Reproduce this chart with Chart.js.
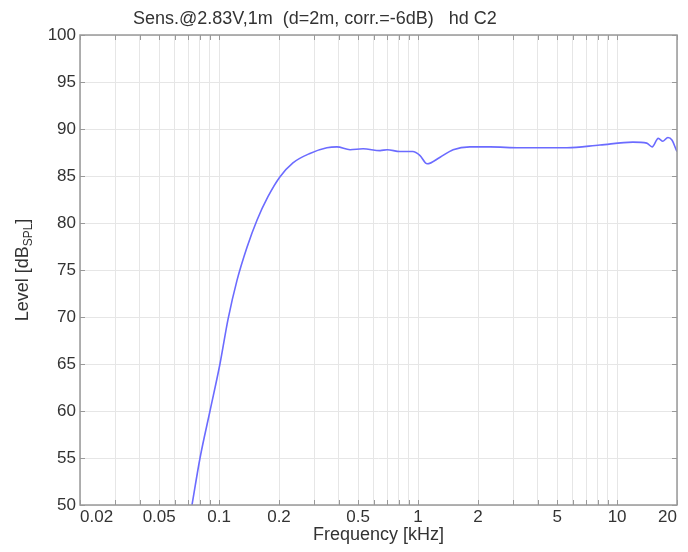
<!DOCTYPE html>
<html>
<head>
<meta charset="utf-8">
<script src="https://cdn.jsdelivr.net/npm/chart.js@4.4.0/dist/chart.umd.min.js"></script>
<style>
  html, body { margin: 0; padding: 0; background: #fff; }
</style>
</head>
<body>
<canvas id="spl" width="688" height="552"></canvas>
<script>
// frequency response (kHz / dB SPL)
const freqKHz = [0.0731, 0.0802, 0.090, 0.101, 0.111, 0.123, 0.138, 0.155, 0.176, 0.202,
    0.235, 0.286, 0.348, 0.391, 0.455, 0.529, 0.644, 0.70, 0.81, 0.94,
    1.02, 1.11, 1.29, 1.50, 1.82, 2.30, 3.25, 5.6, 8.2, 12.0,
    14.1, 15.0, 16.1, 17.0, 18.0, 18.9, 19.8, 20.0];
const levelDb = [50, 55, 60, 65, 69.8, 73.9, 77.4, 80.3, 82.8, 84.9,
    86.4, 87.4, 88.0, 88.1, 87.8, 87.9, 87.7, 87.8, 87.6, 87.6,
    87.2, 86.3, 87.0, 87.8, 88.1, 88.1, 88.0, 88.0, 88.3, 88.6,
    88.5, 88.1, 89.0, 88.7, 89.1, 88.8, 87.8, 87.6];

// grid lines (every 1..9 of each decade) and the labelled ones
const gridFreqs = [0.02, 0.03, 0.04, 0.05, 0.06, 0.07, 0.08, 0.09,
    0.1, 0.2, 0.3, 0.4, 0.5, 0.6, 0.7, 0.8, 0.9,
    1, 2, 3, 4, 5, 6, 7, 8, 9, 10, 20];
const freqLabels = [0.02, 0.05, 0.1, 0.2, 0.5, 1, 2, 5, 10, 20];
const levelTicks = [50, 55, 60, 65, 70, 75, 80, 85, 90, 95, 100];

const titleText = 'Sens.@2.83V,1m  (d=2m, corr.=-6dB)   hd C2';

const FONT = '"Liberation Sans", Arial, Helvetica, sans-serif';
const TEXT_COLOR = '#333';
const FRAME_COLOR = '#999';

Chart.defaults.font.family = FONT;
Chart.defaults.color = TEXT_COLOR;

// box, inward tick marks, title and y label with subscript
const framePlugin = {
    id: 'frame',
    afterDraw(chart) {
        const { ctx, chartArea: a, scales: { x, y } } = chart;
        ctx.save();

        ctx.strokeStyle = FRAME_COLOR;
        ctx.lineWidth = 1;
        ctx.beginPath();
        gridFreqs.forEach(f => {
            const px = Math.round(x.getPixelForValue(f)) + 0.5;
            ctx.moveTo(px, a.bottom); ctx.lineTo(px, a.bottom - 5);
            ctx.moveTo(px, a.top); ctx.lineTo(px, a.top + 5);
        });
        levelTicks.forEach(v => {
            const py = Math.round(y.getPixelForValue(v)) + 0.5;
            ctx.moveTo(a.left, py); ctx.lineTo(a.left + 5, py);
            ctx.moveTo(a.right, py); ctx.lineTo(a.right - 5, py);
        });
        ctx.stroke();

        ctx.lineWidth = 1.5;
        ctx.strokeRect(a.left, a.top, a.right - a.left, a.bottom - a.top);

        // title
        ctx.fillStyle = TEXT_COLOR;
        ctx.font = '18px ' + FONT;
        ctx.textAlign = 'left';
        ctx.textBaseline = 'alphabetic';
        ctx.fillText(titleText, 133, 24);

        // y axis label: Level [dB_SPL]
        const main = 'Level [dB', sub = 'SPL', end = ']';
        ctx.font = '18px ' + FONT;
        const wMain = ctx.measureText(main).width;
        const wEnd = ctx.measureText(end).width;
        ctx.font = '12px ' + FONT;
        const wSub = ctx.measureText(sub).width;
        const total = wMain + wSub + wEnd;
        ctx.translate(28, (a.top + a.bottom) / 2);
        ctx.rotate(-Math.PI / 2);
        let cx = -total / 2;
        ctx.font = '18px ' + FONT;
        ctx.fillText(main, cx, 0);
        cx += wMain;
        ctx.font = '12px ' + FONT;
        ctx.fillText(sub, cx, 4);
        cx += wSub;
        ctx.font = '18px ' + FONT;
        ctx.fillText(end, cx, 0);

        ctx.restore();
    }
};

const points = freqKHz.map((f, i) => ({ x: f, y: levelDb[i] }));

new Chart(document.getElementById('spl'), {
    type: 'line',
    data: {
        datasets: [{
            data: points,
            borderColor: '#6b6bff',
            borderWidth: 1.6,
            pointRadius: 0,
            fill: false,
            cubicInterpolationMode: 'monotone'
        }]
    },
    options: {
        responsive: false,
        animation: false,
        layout: { padding: { top: 35, right: 11, left: 0, bottom: 0 } },
        plugins: {
            legend: { display: false },
            tooltip: { enabled: false }
        },
        scales: {
            x: {
                type: 'logarithmic',
                min: 0.02,
                max: 20,
                afterBuildTicks: scale => {
                    scale.ticks = gridFreqs.map(v => ({ value: v }));
                },
                afterFit: scale => { scale.height = 47; },
                grid: { color: '#e6e6e6', lineWidth: 1, drawTicks: false },
                border: { display: false },
                ticks: {
                    autoSkip: false,
                    maxRotation: 0,
                    align: 'inner',
                    padding: 2,
                    font: { size: 17 },
                    color: TEXT_COLOR,
                    callback: value => {
                        const hit = freqLabels.find(l => Math.abs(l - value) < l * 1e-6);
                        return hit !== undefined ? String(hit) : '';
                    }
                },
                title: {
                    display: true,
                    text: 'Frequency [kHz]',
                    font: { size: 18 },
                    color: TEXT_COLOR,
                    padding: { top: 0, bottom: 6 }
                }
            },
            y: {
                min: 50,
                max: 100,
                afterBuildTicks: scale => {
                    scale.ticks = levelTicks.map(v => ({ value: v }));
                },
                afterFit: scale => { scale.width = 80; },
                grid: { color: '#e6e6e6', lineWidth: 1, drawTicks: false },
                border: { display: false },
                ticks: {
                    padding: 4,
                    font: { size: 17 },
                    color: TEXT_COLOR
                }
            }
        }
    },
    plugins: [framePlugin]
});
</script>
</body>
</html>
